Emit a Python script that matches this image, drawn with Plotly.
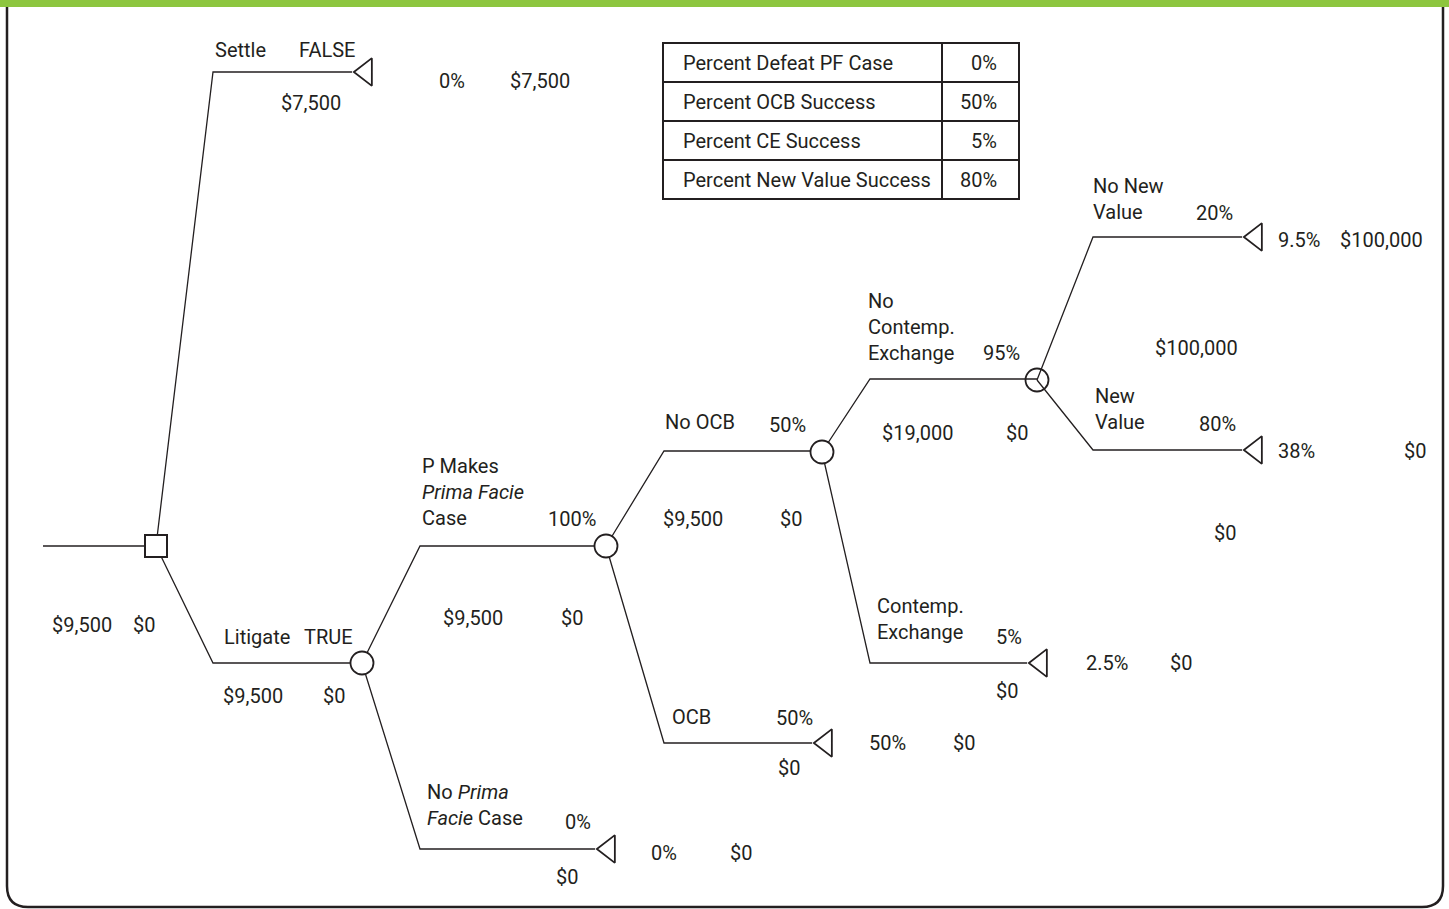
import plotly.graph_objects as go

# ---------------- data ----------------
branch_names = ["Settle", "Litigate", "P Makes<br><i>Prima Facie</i><br>Case",
                "No <i>Prima</i><br><i>Facie</i> Case", "No OCB", "OCB",
                "No<br>Contemp.<br>Exchange", "Contemp.<br>Exchange",
                "No New<br>Value", "New<br>Value"]
branch_probs = ["FALSE", "TRUE", "100%", "0%", "50%", "50%", "95%", "5%", "20%", "80%"]
branch_values = [["$7,500"], ["$9,500", "$0"], ["$9,500", "$0"], ["$0"], ["$9,500", "$0"],
                 ["$0"], ["$19,000", "$0"], ["$0"], ["$100,000"], ["$0"]]
terminal_probs = ["0%", None, None, "0%", None, "50%", None, "2.5%", "9.5%", "38%"]
terminal_payoffs = ["$7,500", None, None, "$0", None, "$0", None, "$0", "$100,000", "$0"]
root_values = ["$9,500", "$0"]

table_labels = ["Percent Defeat PF Case", "Percent OCB Success", "Percent CE Success",
                "Percent New Value Success"]
table_values = ["0%", "50%", "5%", "80%"]

# ---------------- layout (pixel geometry) ----------------
W, H = 1449, 909
INK = "#231f20"
FONT = "Roboto, DejaVu Sans Condensed, sans-serif"
FS = 20

root_start = (43, 546)
# node id -> (x, y, kind)
nodes = {
    "D0": (156, 546, "decision"),
    "C1": (362, 663, "chance"),
    "C2": (606, 546, "chance"),
    "C3": (822, 452, "chance"),
    "C4": (1037, 380, "chance_open"),
}
# branch: parent node, elbow x, line y, end x, end node (None -> terminal triangle tip at end x)
branches = [
    ("D0", 213, 72, 352, None),
    ("D0", 213, 663, 362, "C1"),
    ("C1", 420, 546, 606, "C2"),
    ("C1", 420, 849, 595, None),
    ("C2", 664, 451, 822, "C3"),
    ("C2", 664, 743, 812, None),
    ("C3", 870, 379, 1037, "C4"),
    ("C3", 870, 663, 1027, None),
    ("C4", 1093, 237, 1242, None),
    ("C4", 1093, 450, 1242, None),
]
name_pos = [(213, 50), (222, 637), (420, 492), (425, 805), (663, 422), (670, 717),
            (866, 327), (875, 619), (1091, 199), (1093, 409)]
prob_pos = [(357, 50), (355, 637), (598, 519), (593, 822), (808, 425), (815, 718),
            (1022, 353), (1024, 637), (1235, 213), (1238, 424)]
value_pos = [[(311, 103)], [(253, 696), (334, 696)], [(473, 618), (572, 618)], [(567, 877)],
             [(693, 519), (791, 519)], [(789, 768)], [(917, 433), (1017, 433)],
             [(1007, 691)], [(1196, 348)], [(1225, 533)]]
term_pos = [((452, 81), (540, 81)), None, None, ((664, 853), (741, 853)), None,
            ((887, 743), (964, 743)), None, ((1107, 663), (1181, 663)),
            ((1299, 240), (1381, 240)), ((1296, 451), (1415, 451))]
root_value_pos = [(82, 625), (144, 625)]
table_box = (663, 1019, 43, 199, 942)  # x0, x1, y0, y1, column divider

fig = go.Figure()
line_style = dict(color=INK, width=1.3)

# root stub
fig.add_trace(go.Scatter(x=[root_start[0], nodes["D0"][0]], y=[root_start[1], nodes["D0"][1]],
                         mode="lines", line=line_style, hoverinfo="skip"))

tri_r = 12
tri_x, tri_y = [], []
for (par, ex, ly, endx, endnode) in branches:
    px, py, _ = nodes[par]
    fig.add_trace(go.Scatter(x=[px, ex, endx], y=[py, ly, ly], mode="lines",
                             line=line_style, hoverinfo="skip"))
    if endnode is None:
        tri_x.append(endx + tri_r * 2 / 3 ** 0.5)
        tri_y.append(ly)

# terminal triangles
fig.add_trace(go.Scatter(x=tri_x, y=tri_y, mode="markers",
                         marker=dict(symbol="triangle-left", size=2 * tri_r, color="white",
                                     line=dict(color=INK, width=1.8)), hoverinfo="skip"))
# chance & decision nodes
for nid, (nx, ny, kind) in nodes.items():
    if kind == "decision":
        mk = dict(symbol="square", size=22, color="white", line=dict(color=INK, width=2))
    elif kind == "chance":
        mk = dict(symbol="circle", size=23, color="white", line=dict(color=INK, width=1.8))
    else:
        mk = dict(symbol="circle-open", size=23, color=INK, line=dict(color=INK, width=1.8))
    fig.add_trace(go.Scatter(x=[nx], y=[ny], mode="markers", marker=mk, hoverinfo="skip"))

ann = []
def txt(t, x, y, xa="center"):
    ann.append(dict(text=t, x=x, y=y, xref="x", yref="y", xanchor=xa, yanchor="middle",
                    showarrow=False, align="left", font=dict(family=FONT, size=FS, color=INK)))

for i in range(len(branches)):
    txt(branch_names[i], *name_pos[i], xa="left")
    txt(branch_probs[i], *prob_pos[i], xa="right")
    for v, p in zip(branch_values[i], value_pos[i]):
        txt(v, *p)
    if terminal_probs[i] is not None:
        txt(terminal_probs[i], *term_pos[i][0])
        txt(terminal_payoffs[i], *term_pos[i][1])
for v, p in zip(root_values, root_value_pos):
    txt(v, *p)

# table
x0, x1, y0, y1, xd = table_box
rh = (y1 - y0) / len(table_labels)
shapes = [
    dict(type="rect", x0=0, x1=W, y0=0, y1=7, xref="x", yref="y", fillcolor="#8dc63f", line_width=0),
    dict(type="path", path="M 7,7 L 7,886 Q 7,907 28,907 L 1422,907 Q 1443,907 1443,886 L 1443,7",
         xref="x", yref="y", line=dict(color=INK, width=2.5)),
    dict(type="rect", x0=x0, x1=x1, y0=y0, y1=y1, xref="x", yref="y", line=dict(color=INK, width=2)),
    dict(type="line", x0=xd, x1=xd, y0=y0, y1=y1, xref="x", yref="y", line=dict(color=INK, width=2)),
]
for k in range(1, len(table_labels)):
    yy = y0 + k * rh
    shapes.append(dict(type="line", x0=x0, x1=x1, y0=yy, y1=yy, xref="x", yref="y",
                       line=dict(color=INK, width=2)))
for k, (lab, val) in enumerate(zip(table_labels, table_values)):
    yc = y0 + (k + 0.5) * rh
    txt(lab, x0 + 18, yc, xa="left")
    txt(val, x1 - 20, yc, xa="right")

fig.update_layout(
    width=W, height=H, margin=dict(l=0, r=0, t=0, b=0),
    paper_bgcolor="white", plot_bgcolor="white", showlegend=False,
    xaxis=dict(range=[0, W], visible=False, fixedrange=True),
    yaxis=dict(range=[H, 0], visible=False, fixedrange=True),
    shapes=shapes, annotations=ann,
)
fig.write_html("out.html", config={"displayModeBar": False},
               post_script="document.body.style.margin='0';document.body.style.overflow='hidden';")
